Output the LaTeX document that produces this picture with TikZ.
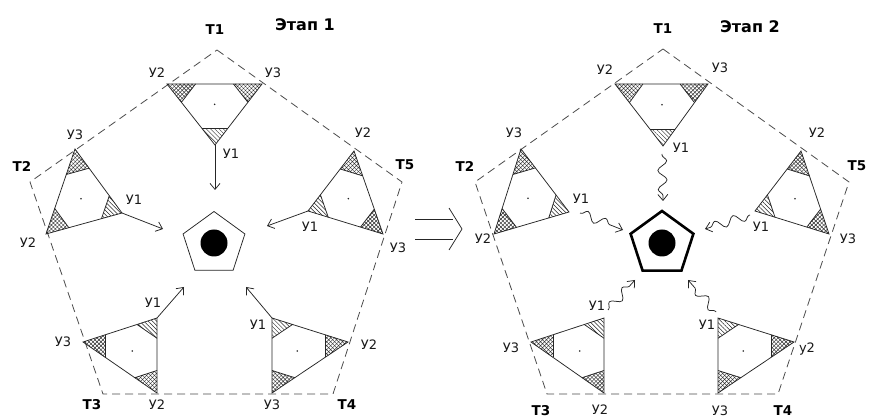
\documentclass[tikz,border=0pt]{standalone}
\usepackage{fontspec}
\setmainfont{DejaVu Sans}
\usetikzlibrary{shapes.geometric,patterns.meta,calc,arrows.meta,decorations.pathmorphing}
\definecolor{ink}{gray}{0.15}
\definecolor{dash}{gray}{0.3}
\tikzset{
  tri/.style={draw=ink,line width=0.75pt},
  pent/.style={draw=dash,line width=0.8pt,dash pattern=on 8pt off 5pt},
  hs/.style={pattern={Lines[angle=-45,distance=3pt,line width=0.5pt]},pattern color=ink},
  xa/.style={pattern={Lines[angle=45,distance=2.8pt,line width=0.45pt]},pattern color=ink},
  xb/.style={pattern={Lines[angle=-45,distance=2.8pt,line width=0.45pt]},pattern color=ink},
  lab/.style={font=\fontsize{13}{15}\selectfont,text=black!90,inner sep=0pt},
  tlab/.style={font=\bfseries\fontsize{13.5}{15}\selectfont,inner sep=0pt},
  ttl/.style={font=\bfseries\fontsize{16}{18}\selectfont,inner sep=0pt},
  arr/.style={draw=ink,line width=0.75pt,-{Straight Barb[length=6pt,width=10pt]}},
  wav/.style={draw=ink,line width=0.75pt,-{Straight Barb[length=6pt,width=10pt]},
    decorate,decoration={snake,amplitude=4.5pt,segment length=19pt,pre length=1pt,post length=5pt}},
}
\newcommand{\ytri}[4]{%
  \coordinate (#1a) at #2;
  \coordinate (#1b) at #3;
  \coordinate (#1c) at #4;
  \path[hs] (#1a) -- ($(#1a)!0.27!(#1b)$) -- ($(#1a)!0.27!(#1c)$) -- cycle;
  \path[xa] (#1b) -- ($(#1b)!0.3!(#1a)$) -- ($(#1b)!0.3!(#1c)$) -- cycle;
  \path[xb] (#1b) -- ($(#1b)!0.3!(#1a)$) -- ($(#1b)!0.3!(#1c)$) -- cycle;
  \path[xa] (#1c) -- ($(#1c)!0.3!(#1a)$) -- ($(#1c)!0.3!(#1b)$) -- cycle;
  \path[xb] (#1c) -- ($(#1c)!0.3!(#1a)$) -- ($(#1c)!0.3!(#1b)$) -- cycle;
  \draw[tri] (#1a) -- (#1b) -- (#1c) -- cycle;
  \draw[tri] ($(#1a)!0.27!(#1b)$) -- ($(#1a)!0.27!(#1c)$);
  \draw[tri] ($(#1b)!0.3!(#1a)$) -- ($(#1b)!0.3!(#1c)$);
  \draw[tri] ($(#1c)!0.3!(#1a)$) -- ($(#1c)!0.3!(#1b)$);
  \fill[ink] (barycentric cs:#1a=1,#1b=1,#1c=1) circle (0.9pt);
}
\begin{document}
\begin{tikzpicture}[x=1pt,y=-1pt]
\useasboundingbox (0,0) rectangle (870,419);
\fill[white] (0,0) rectangle (870,419);

% ================= LEFT PANEL =================
\coordinate (LT1) at (217,50);
\coordinate (LT2) at (30,182);
\coordinate (LT5) at (402,182);
\coordinate (LT3) at (103,394);
\coordinate (LT4) at (333,394);
\draw[pent] (LT1) -- (LT5) -- (LT4) -- (LT3) -- (LT2) -- cycle;

\ytri{LA}{(215,145)}{(167,84)}{(262,84)}
\ytri{LB}{(122,213)}{(46,234)}{(75,149)}
\ytri{LE}{(308,211)}{(354,151)}{(383,234)}
\ytri{LC}{(157,318)}{(157,393)}{(83,342)}
\ytri{LD}{(272,318)}{(348,342)}{(272,393)}

\node[regular polygon,regular polygon sides=5,minimum size=65pt,inner sep=0pt,draw=ink,line width=0.75pt] (lpent) at (214,244) {};
\node[circle,fill=black,minimum size=27pt,inner sep=0pt] (lcore) at (214,243) {};

\coordinate (LAe) at (215,190);
\coordinate (LBe) at (163,229);
\coordinate (LEe) at (267,226);
\coordinate (LCe) at (184,287);
\coordinate (LDe) at (246,287);
\draw[arr] (LAa) -- (LAe);
\draw[arr] (LBa) -- (LBe);
\draw[arr] (LEa) -- (LEe);
\draw[arr] (LCa) -- (LCe);
\draw[arr] (LDa) -- (LDe);

\node[tlab] (lt1) at (215,30) {Т1};
\node[ttl] (lst) at (305,25) {Этап 1};
\node[tlab] (lt2) at (22,166) {Т2};
\node[tlab] (lt5) at (405,165) {Т5};
\node[tlab] (lt3) at (92,405) {Т3};
\node[tlab] (lt4) at (347,405) {Т4};

\node[lab] (la2) at (157,73) {У2};
\node[lab] (la3) at (273,73) {У3};
\node[lab] (la1) at (231,154) {У1};
\node[lab] (lb3) at (75,135) {У3};
\node[lab] (lb1) at (134,200) {У1};
\node[lab] (lb2) at (28,243) {У2};
\node[lab] (le2) at (363,133) {У2};
\node[lab] (le1) at (310,227) {У1};
\node[lab] (le3) at (398,248) {У3};
\node[lab] (lc1) at (153,303) {У1};
\node[lab] (lc3) at (63,342) {У3};
\node[lab] (lc2) at (157,405) {У2};
\node[lab] (ld1) at (258,325) {У1};
\node[lab] (ld2) at (369,345) {У2};
\node[lab] (ld3) at (272,405) {У3};

% ================= TRANSITION ARROW =================
\coordinate (ia1) at (415,219);
\coordinate (ib1) at (453,219);
\coordinate (ia2) at (415,239);
\coordinate (ib2) at (453,239);
\coordinate (ic1) at (449,208);
\coordinate (ic2) at (462,229);
\coordinate (ic3) at (449,250);
\draw[draw=ink,line width=0.75pt] (ia1) -- (ib1);
\draw[draw=ink,line width=0.75pt] (ia2) -- (ib2);
\draw[draw=ink,line width=0.75pt] (ic1) -- (ic2) -- (ic3);

% ================= RIGHT PANEL =================
\coordinate (RT1) at (663,49);
\coordinate (RT2) at (475,182);
\coordinate (RT5) at (849,182);
\coordinate (RT3) at (547,394);
\coordinate (RT4) at (778,394);
\draw[pent] (RT1) -- (RT5) -- (RT4) -- (RT3) -- (RT2) -- cycle;

\ytri{RA}{(663,146)}{(615,84)}{(708,84)}
\ytri{RB}{(569,212)}{(494,234)}{(521,149)}
\ytri{RE}{(755,211)}{(801,151)}{(829,234)}
\ytri{RC}{(604,318)}{(604,393)}{(531,342)}
\ytri{RD}{(718,318)}{(794,342)}{(718,393)}

\node[regular polygon,regular polygon sides=5,minimum size=66pt,inner sep=0pt,draw=black,line width=2.6pt] (rpent) at (662,244) {};
\node[circle,fill=black,minimum size=27pt,inner sep=0pt] (rcore) at (662,243) {};

\coordinate (RAs) at (662,154);
\coordinate (RAe) at (663,201);
\coordinate (RBs) at (580,213);
\coordinate (RBe) at (623,230);
\coordinate (REs) at (750,215);
\coordinate (REe) at (705,229);
\coordinate (RCs) at (608,310);
\coordinate (RCe) at (635,280);
\coordinate (RDs) at (716,312);
\coordinate (RDe) at (688,280);
\draw[wav] (RAs) -- (RAe);
\draw[wav] (RBs) -- (RBe);
\draw[wav] (REs) -- (REe);
\draw[wav] (RCs) -- (RCe);
\draw[wav] (RDs) -- (RDe);

\node[tlab] (rt1) at (663,29) {Т1};
\node[ttl] (rst) at (750,27) {Этап 2};
\node[tlab] (rt2) at (465,166) {Т2};
\node[tlab] (rt5) at (857,166) {Т5};
\node[tlab] (rt3) at (541,411) {Т3};
\node[tlab] (rt4) at (783,411) {Т4};

\node[lab] (ra2) at (605,70) {У2};
\node[lab] (ra3) at (720,68) {У3};
\node[lab] (ra1) at (681,148) {У1};
\node[lab] (rb3) at (514,133) {У3};
\node[lab] (rb1) at (581,199) {У1};
\node[lab] (rb2) at (483,239) {У2};
\node[lab] (re2) at (817,133) {У2};
\node[lab] (re1) at (761,227) {У1};
\node[lab] (re3) at (848,239) {У3};
\node[lab] (rc1) at (597,306) {У1};
\node[lab] (rc3) at (511,348) {У3};
\node[lab] (rc2) at (600,410) {У2};
\node[lab] (rd1) at (707,325) {У1};
\node[lab] (rd2) at (807,349) {у2};
\node[lab] (rd3) at (720,411) {У3};
\end{tikzpicture}
\end{document}
